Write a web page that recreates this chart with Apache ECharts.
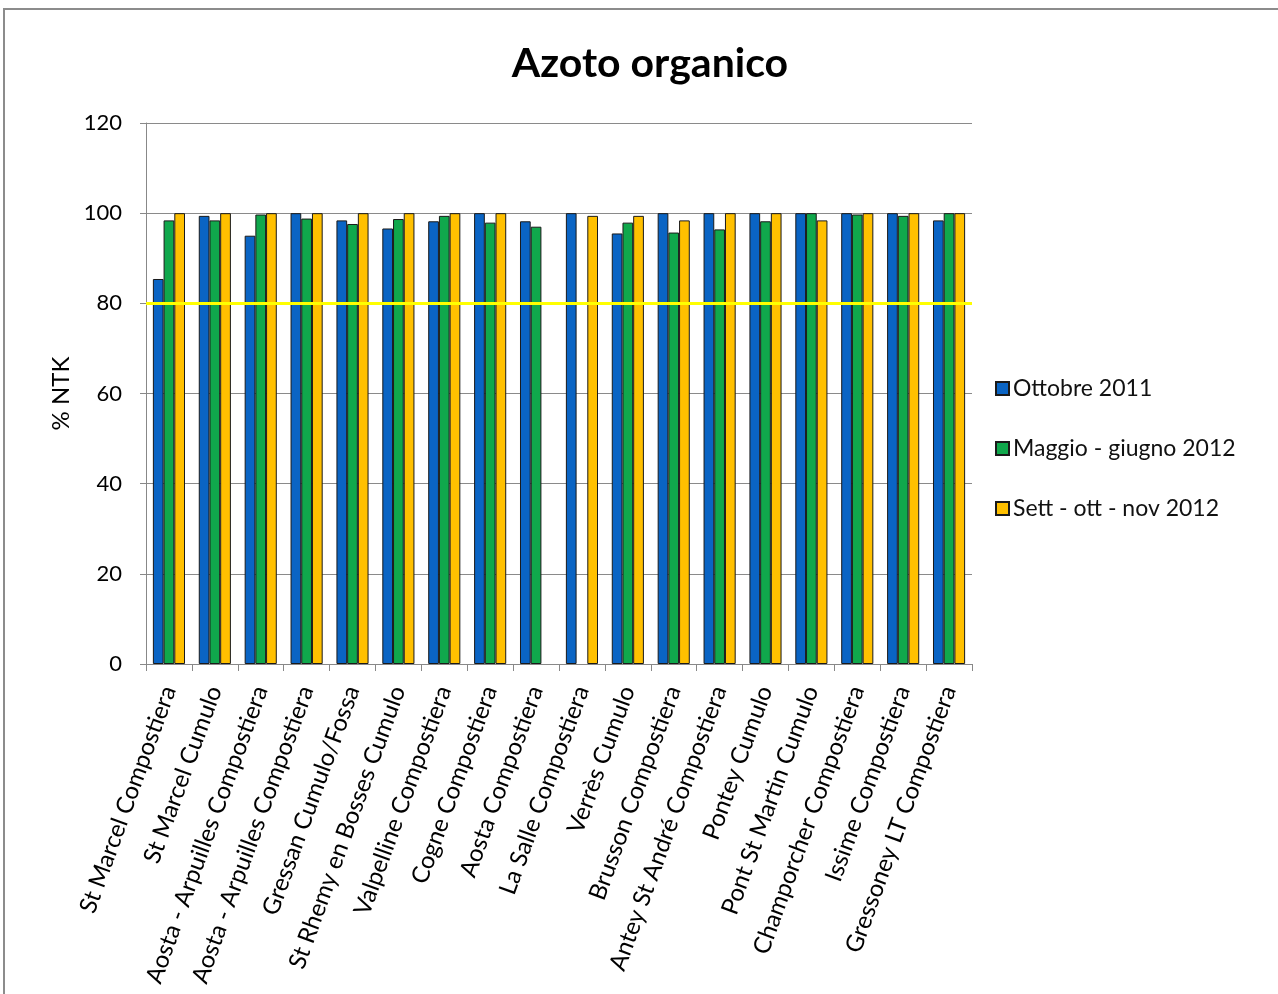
<!DOCTYPE html>
<html>
<head>
<meta charset="utf-8">
<script src="https://cdn.jsdelivr.net/npm/echarts@6/dist/echarts.min.js"></script>
<style>
html,body{margin:0;padding:0;background:#fff;}
#frame{position:absolute;left:3px;top:8px;width:1290px;height:1000px;border-left:2px solid #8c8c8c;border-top:2px solid #8c8c8c;}
#chart{position:absolute;left:0;top:0;width:1278px;height:994px;}
</style>
</head>
<body>
<div id="frame"></div>
<div id="chart"></div>
<script>
const categories = [
  'St Marcel Compostiera','St Marcel Cumulo','Aosta - Arpuilles Compostiera','Aosta - Arpuilles Compostiera',
  'Gressan Cumulo/Fossa','St Rhemy en Bosses Cumulo','Valpelline Compostiera','Cogne Compostiera',
  'Aosta Compostiera','La Salle Compostiera','Verrès Cumulo','Brusson Compostiera',
  'Antey St André Compostiera','Pontey Cumulo','Pont St Martin Cumulo','Champorcher Compostiera',
  'Issime Compostiera','Gressoney LT Compostiera'
];
const ottobre2011 = [85.4, 99.4, 95.0, 100, 98.4, 96.6, 98.2, 100, 98.2, 100, 95.5, 100, 100, 100, 100, 100, 100, 98.4];
const maggioGiugno2012 = [98.4, 98.4, 99.7, 98.8, 97.6, 98.7, 99.4, 97.9, 97.0, null, 97.9, 95.7, 96.4, 98.2, 100, 99.7, 99.4, 100];
const settOttNov2012 = [100, 100, 100, 100, 100, 100, 100, 100, null, 99.4, 99.4, 98.4, 100, 100, 98.4, 100, 100, 100];
const seriesNames = ['Ottobre 2011', 'Maggio - giugno 2012', 'Sett - ott - nov 2012'];
const thresholdValue = 80;

const FONT = 'Lato, "Open Sans", sans-serif';
const chart = echarts.init(document.getElementById('chart'));
const barStyle = (c) => ({ color: c, borderColor: '#1a1a1a', borderWidth: 1 });
chart.setOption({
  animation: false,
  backgroundColor: 'transparent',
  textStyle: { fontFamily: FONT },
  title: {
    text: 'Azoto organico', left: 645, top: 38, textAlign: 'center',
    textStyle: { fontFamily: FONT, fontSize: 41, fontWeight: 'bold', color: '#000' }
  },
  legend: {
    orient: 'vertical', left: 990, top: 372, itemGap: 37, itemWidth: 13, itemHeight: 13,
    icon: 'rect',
    textStyle: { fontFamily: FONT, fontSize: 23, color: '#111', padding: [0,0,0,-1] },
    data: seriesNames
  },
  grid: { left: 146, right: 306, top: 123, bottom: 330, containLabel: false },
  xAxis: {
    type: 'category', data: categories,
    axisLine: { lineStyle: { color: '#888', width: 1 } },
    axisTick: { show: true, length: 7, lineStyle: { color: '#888' } },
    axisLabel: { interval: 0, rotate: 70, fontFamily: FONT, fontSize: 24, color: '#000', margin: 23 }
  },
  yAxis: {
    type: 'value', min: 0, max: 120, interval: 20,
    name: '% NTK', nameLocation: 'middle', nameGap: 73, nameRotate: 90,
    nameTextStyle: { fontFamily: FONT, fontSize: 24, color: '#000' },
    axisLine: { show: true, lineStyle: { color: '#888' } },
    axisTick: { show: true, length: 6, lineStyle: { color: '#888' } },
    axisLabel: { fontFamily: FONT, fontSize: 22, color: '#000', margin: 24 },
    splitLine: { lineStyle: { color: '#8a8a8a', width: 1 } }
  },
  series: [
    { name: seriesNames[0], type: 'bar', data: ottobre2011, barGap: '0%', barCategoryGap: '30%',
      itemStyle: barStyle('#0a64c4'),
      markLine: { silent: true, symbol: 'none', label: { show: false },
        lineStyle: { color: '#ffff00', width: 3, type: 'solid' },
        data: [{ yAxis: thresholdValue }] } },
    { name: seriesNames[1], type: 'bar', data: maggioGiugno2012, barGap: '0%', barCategoryGap: '30%',
      itemStyle: barStyle('#10a84c') },
    { name: seriesNames[2], type: 'bar', data: settOttNov2012, barGap: '0%', barCategoryGap: '30%',
      itemStyle: barStyle('#ffc000') }
  ]
});
</script>
</body>
</html>
